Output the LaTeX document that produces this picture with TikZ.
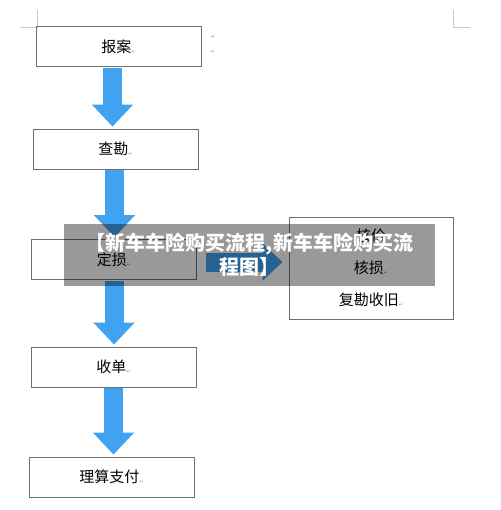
\documentclass[tikz,border=0pt]{standalone}
\usepackage{fontspec}
\setmainfont{Noto Sans CJK SC}
\newfontfamily\symfont{DejaVu Sans}
\usetikzlibrary{arrows.meta}
\definecolor{flowblue}{RGB}{64,162,240}
\definecolor{boxline}{RGB}{110,110,110}
\newcommand\retmark{{\symfont\fontsize{5}{5}\selectfont\color{black!45}\raisebox{-1pt}{↵}}}
\tikzset{
  box/.style={draw=boxline, line width=0.9pt, minimum width=165pt, minimum height=40pt,
    inner sep=0pt, font=\fontsize{15}{18}\selectfont},
  flow/.style={flowblue, line width=19pt, shorten >=2pt, shorten <=1pt,
    -{Triangle[width=40pt,length=22pt]}},
  corner/.style={black!20, line width=0.8pt}
}
\begin{document}
\begin{tikzpicture}[x=1pt,y=-1pt]
\useasboundingbox (0,0) rectangle (500,510);

% page corners
\draw[corner] (37,10) -- (37,27) -- (20,27);
\draw[corner] (453,10) -- (453,27) -- (470,27);

% boxes
\node[box] (baoan) at (118.5,46.5) {报案\retmark};
\node[box] (chakan) at (115.5,149) {查勘\retmark};
\node[box] (dingsun) at (114,259.5) {定损\retmark};
\node[box] (shoudan) at (113.5,367) {收单\retmark};
\node[box] (lisuan) at (111.5,477) {理算支付\retmark};
\node[box, minimum width=164pt, minimum height=102pt, align=center] (hesun) at (371,268)
  {核价\\[14pt]核损\retmark\\[14pt]复勘收旧\retmark};

\node (mark1) at (213,37) {\retmark};
\node (mark2) at (213,52) {\retmark};

% arrows
\draw[flow] ([xshift=-6pt]baoan.south) -- ([xshift=-3pt]chakan.north);
\draw[flow] ([xshift=-1pt]chakan.south) -- ([xshift=0.5pt]dingsun.north);
\draw[flow] (dingsun.south) -- ([xshift=0.5pt]shoudan.north);
\draw[flow] (shoudan.south) -- ([xshift=2pt]lisuan.north);
\draw[flow, shorten <=9pt, shorten >=6pt, -{Triangle[width=36pt,length=20pt]}]
  ([yshift=-2.5pt]dingsun.east) -- ([yshift=-2.5pt]dingsun.east -| hesun.west);

% banner
\node[fill=black, fill opacity=0.4, text opacity=1, text=white, minimum width=371pt,
  minimum height=62pt, inner sep=0pt, align=center,
  font=\fontsize{20}{24}\selectfont\bfseries] (banner) at (249.5,255)
  {【新车车险购买流程,新车车险购买流\\程图】};

\end{tikzpicture}
\end{document}
